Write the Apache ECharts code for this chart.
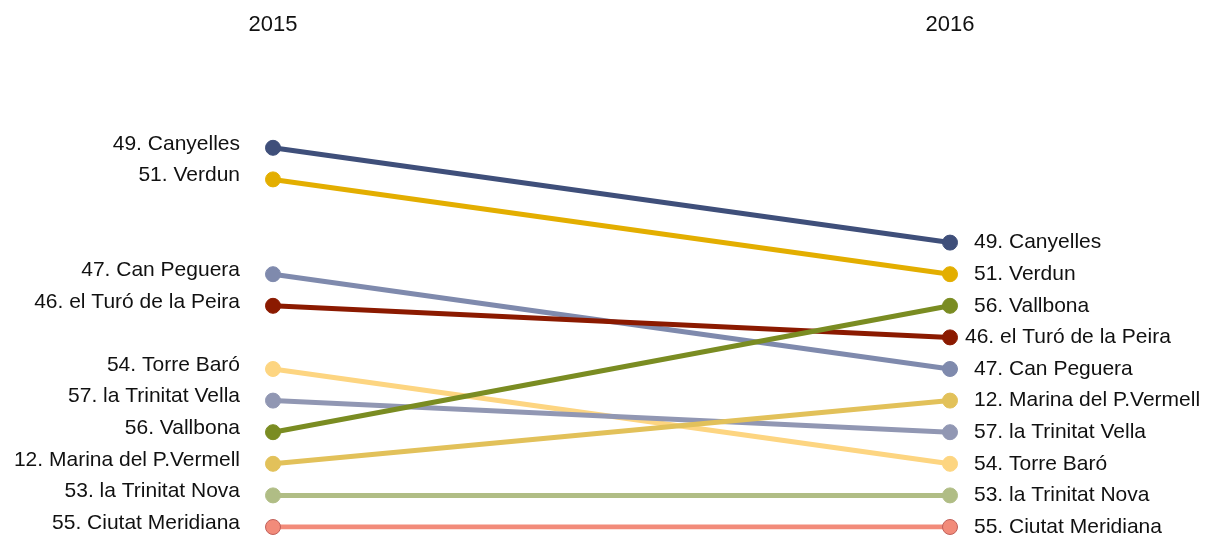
<!DOCTYPE html>
<html><head><meta charset="utf-8">
<script src="https://cdn.jsdelivr.net/npm/echarts@6/dist/echarts.min.js"></script>
<style>html,body{margin:0;padding:0;background:#fff}#c{width:1211px;height:542px}</style>
</head><body><div id="c"></div>
<script>
const years = ['2015', '2016'];
const names = ['49. Canyelles','51. Verdun','47. Can Peguera','46. el Turó de la Peira','54. Torre Baró','57. la Trinitat Vella','56. Vallbona','12. Marina del P.Vermell','53. la Trinitat Nova','55. Ciutat Meridiana'];
const pos2015 = [12,11,8,7,5,4,3,2,1,0];
const pos2016 = [9,8,5,6,2,3,7,4,1,0];
const colors = ['#3f4f7a','#e3ae00','#7f8aad','#8b1a00','#fdd581','#9197b3','#7a8c22','#e2c15a','#b0bd85','#f28b7a'];
const chart = echarts.init(document.getElementById('c'));
const font = {fontFamily:'Liberation Sans, Arial', fontSize:21, color:'#111'};
chart.setOption({
  animation:false,
  grid:{left:273,right:261,top:53,bottom:15},
  xAxis:{type:'category',data:years,boundaryGap:false,position:'top',
    axisLine:{show:false},axisTick:{show:false},splitLine:{show:false},
    axisLabel:Object.assign({margin:17},font,{fontSize:22})},
  yAxis:{type:'value',min:0,max:15,show:false},
  series:names.map((n,i)=>({
    type:'line',name:n,
    data:[
      {value:pos2015[i],label:{show:true,position:'left',distance:25,offset:[0,-4],formatter:n}},
      {value:pos2016[i],label:{show:true,position:'right',distance:i===3?7:16,formatter:n}}
    ],
    label:font,
    lineStyle:{color:colors[i],width:5},
    itemStyle:{color:colors[i],borderColor:i===9?'#c0605a':colors[i],borderWidth:1},
    symbol:'circle',symbolSize:15,showSymbol:true
  }))
});
</script></body></html>
